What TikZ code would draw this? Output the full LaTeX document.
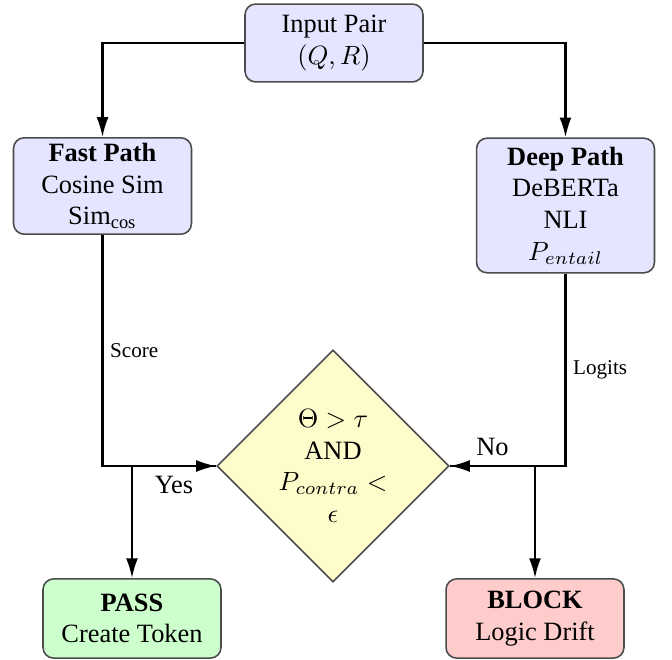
\documentclass[tikz,border=0pt]{standalone}
\usepackage[no-math]{fontspec}
\setmainfont{Liberation Serif}
\usetikzlibrary{shapes.geometric,arrows.meta}

\tikzset{
  box/.style={draw=black!70, line width=0.6pt, rounded corners=4pt,
    align=center, minimum width=67.4pt, inner sep=2pt,
    font=\fontsize{10}{12}\selectfont},
  pathbox/.style={box, fill=blue!10},
  passbox/.style={box, fill=green!20, minimum height=30pt},
  blockbox/.style={box, fill=red!20, minimum height=30pt},
  decision/.style={diamond, draw=black!70, line width=0.6pt, fill=yellow!20,
    aspect=1, inner sep=0pt, minimum width=88pt, minimum height=88pt,
    align=center, font=\fontsize{10}{12}\selectfont},
  arr/.style={draw=black, line width=0.8pt, -{Latex[length=7.5pt,width=4.5pt]}},
  smalllabel/.style={font=\footnotesize, inner sep=2.5pt},
  branchlabel/.style={font=\fontsize{10}{12}\selectfont}
}

\begin{document}
\begin{tikzpicture}[x=0.3788pt, y=-0.3788pt]
  \useasboundingbox (0,0) rectangle (672,660);

  % input and the two scoring paths
  \node[pathbox, minimum height=29.5pt] (in) at (334,43) {Input Pair\\$(Q,R)$};
  \node[pathbox, minimum height=36.4pt] (fast) at (102.5,186)
    {\textbf{Fast Path}\\Cosine Sim\\Sim\textsubscript{cos}};
  \node[pathbox, minimum height=51pt] (deep) at (565.5,205.5)
    {\textbf{Deep Path}\\DeBERTa\\NLI\\$P_{entail}$};

  % gate
  \node[decision] (dec) at (333,466)
    {$\Theta > \tau$\\AND\\$P_{contra} <$\\$\epsilon$};

  % outcomes
  \node[passbox] (pass) at (132,618.5) {\textbf{PASS}\\Create Token};
  \node[blockbox] (block) at (535,618.5) {\textbf{BLOCK}\\Logic Drift};

  % connectors
  \draw[arr] (in) -| (fast);
  \draw[arr] (in) -| (deep);
  \draw[arr] (fast) |- node[pos=0.25, right, smalllabel] {Score} (dec);
  \draw[arr] (deep) |- node[pos=0.25, right, smalllabel] {Logits} (dec);
  \draw[arr] (dec) -| node[pos=0.25, below, branchlabel] {Yes} (pass);
  \draw[arr] (dec) -| node[pos=0.25, above, branchlabel] {No} (block);
\end{tikzpicture}
\end{document}
